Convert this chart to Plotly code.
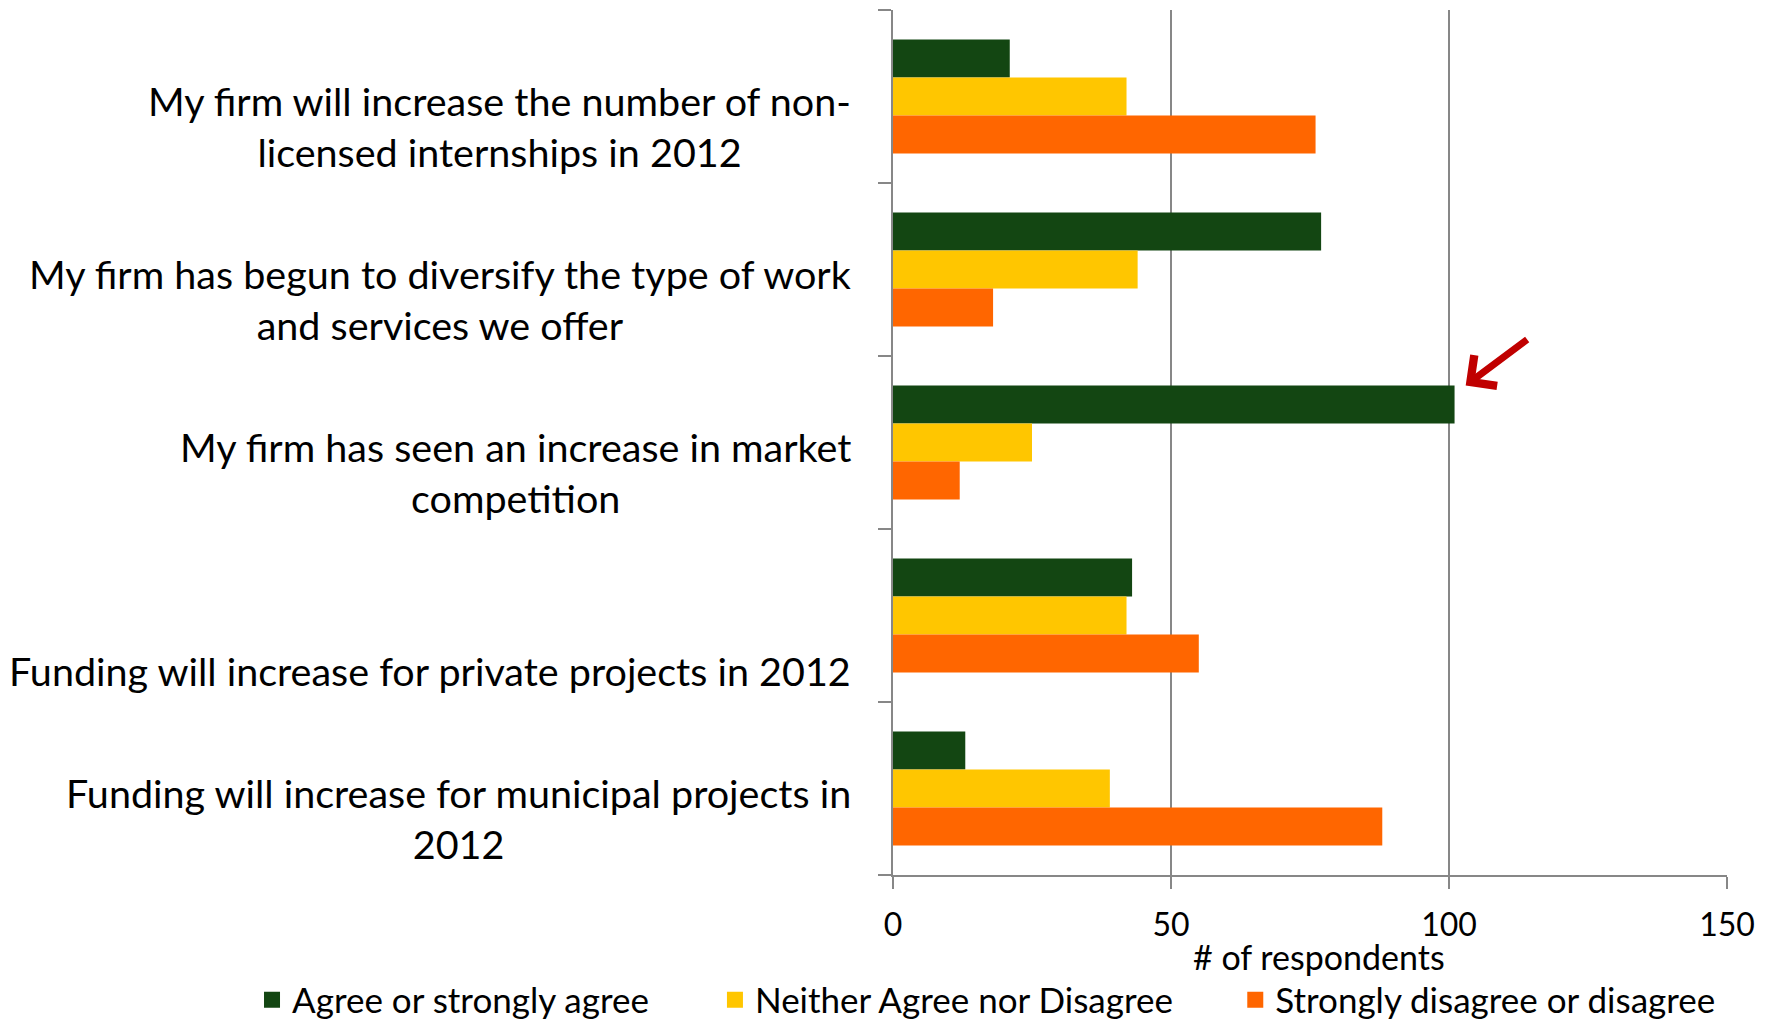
import plotly.graph_objects as go

# Survey statements (top to bottom) and response counts per answer group
statements = [
    "My firm will increase the number of non-<br>licensed internships in 2012",
    "My firm has begun to diversify the type of work<br>and services we offer",
    "My firm has seen an increase in market<br>competition",
    "Funding will increase for private projects in 2012",
    "Funding will increase for municipal projects in<br>2012",
]
agree = [21, 77, 101, 43, 13]
neither = [42, 44, 25, 42, 39]
disagree = [76, 18, 12, 55, 88]

series_names = [
    "Agree or strongly agree",
    "Neither Agree nor Disagree",
    "Strongly disagree or disagree",
]
series_values = [agree, neither, disagree]
series_colors = ["#134612", "#FFC600", "#FF6600"]

x_ticks = [0, 50, 100, 150]
x_title = "# of respondents"

FONT = "Lato, 'Noto Sans', sans-serif"
AXIS_GREY = "#878787"
W, H = 1771, 1020
M_L, M_R, M_T, M_B = 893, 44, 10, 145
plot_w, plot_h = W - M_L - M_R, H - M_T - M_B

cat_ids = list(range(len(statements)))

fig = go.Figure()
for name, vals, col in zip(series_names, series_values, series_colors):
    fig.add_trace(go.Bar(
        y=cat_ids, x=vals, name=name, orientation="h",
        marker=dict(color=col, line=dict(width=0)),
        showlegend=False,
    ))

# Legend entries, each in its own legend box so spacing follows the layout
legend_x = [0.1423, 0.4037, 0.6975]
for i, (name, col) in enumerate(zip(series_names, series_colors)):
    key = "legend" if i == 0 else f"legend{i + 1}"
    fig.add_trace(go.Scatter(
        x=[None], y=[None], mode="markers", name=name,
        marker=dict(symbol="square", size=20, color=col),
        showlegend=True, legend=key,
    ))
    fig.update_layout({key: dict(
        x=legend_x[i], y=1 - 1000 / H, xref="container", yref="container",
        xanchor="left", yanchor="middle", orientation="h",
        font=dict(family=FONT, size=35, color="black"),
        bgcolor="rgba(0,0,0,0)", borderwidth=0,
        itemclick=False, itemdoubleclick=False,
    )})

# Category labels, centred line by line and right-aligned next to the axis
line_h = 52
for i, text in enumerate(statements):
    n_lines = text.count("<br>") + 1
    fig.add_annotation(
        x=0, xref="paper", xanchor="right", xshift=-40,
        y=i, yref="y", yanchor="middle",
        yshift=-29 - (2 - n_lines) * line_h / 2,
        text=text, align="center", showarrow=False,
        font=dict(family=FONT, size=39.5, color="black"),
    )

# Value-axis title below the tick labels
fig.add_annotation(
    x=(1319 - M_L) / plot_w, xref="paper", xanchor="center",
    y=-(956 - (H - M_B)) / plot_h, yref="paper", yanchor="middle",
    text=x_title, showarrow=False,
    font=dict(family=FONT, size=34, color="black"),
)

# Red arrow highlighting the largest bar
fig.add_annotation(
    x=agree[2] + 2, xref="x", y=2 - 0.33, yref="y",
    ax=63, ay=-47, axref="pixel", ayref="pixel",
    text="", showarrow=True, arrowhead=4, arrowsize=1.05,
    arrowwidth=7, arrowcolor="#C00000",
)

fig.update_layout(
    width=W, height=H,
    margin=dict(l=M_L, r=M_R, t=M_T, b=M_B),
    paper_bgcolor="white", plot_bgcolor="white",
    barmode="group", bargap=0.34, bargroupgap=0,
    font=dict(family=FONT, color="black"),
    xaxis=dict(
        range=[0, 150], tickvals=x_ticks, ticktext=[str(v) for v in x_ticks],
        automargin=False,
        showgrid=True, gridcolor=AXIS_GREY, gridwidth=1.5,
        showline=True, linecolor=AXIS_GREY, linewidth=2,
        ticks="outside", ticklen=12, tickwidth=2, tickcolor=AXIS_GREY,
        ticklabelstandoff=9,
        tickfont=dict(family=FONT, size=32, color="black"),
        zeroline=False,
    ),
    yaxis=dict(
        type="linear", range=[4.5, -0.5], automargin=False,
        tickvals=[-0.5, 0.5, 1.5, 2.5, 3.5, 4.5],
        showticklabels=False, showgrid=False, zeroline=False,
        showline=True, linecolor=AXIS_GREY, linewidth=2,
        ticks="outside", ticklen=13, tickwidth=2, tickcolor=AXIS_GREY,
    ),
)

fig.write_html("out.html")
